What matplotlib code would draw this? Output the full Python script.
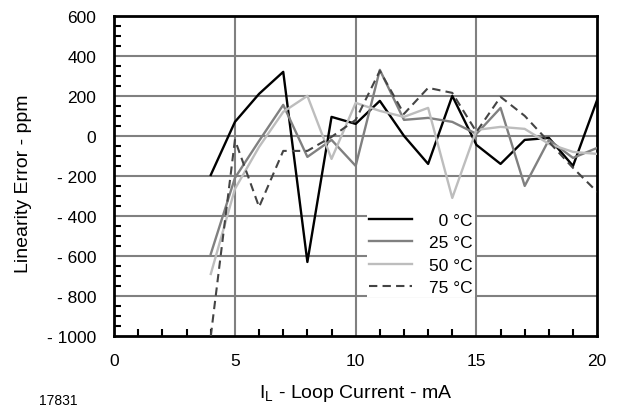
import numpy as np
import matplotlib
matplotlib.use("Agg")
import matplotlib.pyplot as plt
from matplotlib.ticker import MultipleLocator

plt.rcParams['font.family'] = ['Liberation Sans', 'DejaVu Sans']

# loop current points (mA)
current = [4, 5, 6, 7, 8, 9, 10, 11, 12, 13, 14, 15, 16, 17, 18, 19, 20]

# linearity error (ppm) per temperature
err_0c = [-195, 70, 210, 320, -630, 95, 60, 175, 0, -140, 200, -45, -140, -20, -10, -150, 180]
err_25c = [-590, -210, -25, 155, -105, -20, -150, 330, 80, 90, 70, 10, 140, -250, -20, -110, -60]
err_50c = [-690, -265, -55, 120, 200, -115, 165, 125, 95, 140, -310, 30, 45, 35, -40, -80, -90]
err_75c = [-1000, -20, -355, -75, -75, -5, 80, 325, 110, 240, 215, 20, 195, 100, -30, -160, -280]

labels = ["\u20070 \u00b0C", "25 \u00b0C", "50 \u00b0C", "75 \u00b0C"]

yticks = [600, 400, 200, 0, -200, -400, -600, -800, -1000]
ytick_labels = ["600", "400", "200", "0", "- 200", "- 400", "- 600", "- 800", "- 1000"]
xticks = [0, 5, 10, 15, 20]

fig = plt.figure(figsize=(6.24, 4.10), dpi=100)
ax = fig.add_axes([0.183, 0.178, 0.774, 0.781])

ax.plot(current, err_0c, color="black", lw=1.7, label=labels[0], zorder=3)
ax.plot(current, err_25c, color="#808080", lw=1.7, label=labels[1], zorder=3)
ax.plot(current, err_50c, color="#bdbdbd", lw=1.7, label=labels[2], zorder=3)
ax.plot(current, err_75c, color="#444444", lw=1.5, ls=(0, (4, 2.5)), label=labels[3], zorder=3)

ax.set_xlim(0, 20)
ax.set_ylim(-1000, 600)
ax.set_xticks(xticks)
ax.set_yticks(yticks)
ax.set_yticklabels(ytick_labels)
ax.xaxis.set_minor_locator(MultipleLocator(1))
ax.yaxis.set_minor_locator(MultipleLocator(50))

# gray grid: verticals every 5 mA, horizontals every 200 ppm
for x in xticks[1:-1]:
    ax.axvline(x, color="#808080", lw=1.5, zorder=1)
for y in yticks[1:-1]:
    ax.axhline(y, color="#808080", lw=1.5, zorder=1)

ax.tick_params(axis="both", which="major", direction="in", length=0, labelsize=12.5)
ax.tick_params(axis="y", which="major", pad=13)
ax.tick_params(axis="x", which="major", pad=12)
ax.tick_params(axis="both", which="minor", direction="in", length=5, width=1.5, color="black")
ax.tick_params(axis="x", which="minor", top=False)
ax.tick_params(axis="y", which="minor", right=False)
for s in ax.spines.values():
    s.set_linewidth(2)

ax.set_ylabel("Linearity Error - ppm", fontsize=14)
ax.yaxis.set_label_coords(-0.17, 0.48)
ax.set_xlabel("I$_\\mathregular{L}$ - Loop Current - mA", fontsize=14, labelpad=10)

leg = ax.legend(loc="lower left", bbox_to_anchor=(0.505, 0.095), frameon=True,
                fontsize=12.5, handlelength=2.5, labelspacing=0.42, borderpad=0.1,
                handletextpad=1.0, fancybox=False)
leg.get_frame().set_facecolor("white")
leg.get_frame().set_edgecolor("none")
leg.get_frame().set_alpha(1)
leg.set_zorder(4)

fig.text(0.063, 0.012, "17831", fontsize=10)

fig.savefig("out.png", dpi=100)
